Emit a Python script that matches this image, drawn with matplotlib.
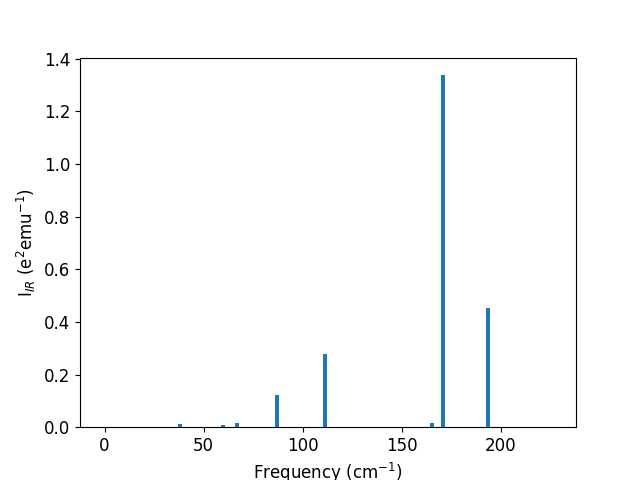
import numpy as np
import matplotlib
matplotlib.use('Agg')
import matplotlib.pyplot as plt

plt.rcParams['font.size'] = 12

# vibrational modes (cm^-1) and IR intensities
freqs = [0.0, 37.9, 60.0, 66.8, 86.9, 111.3, 165.2, 170.7, 193.4, 225.5]
intens = [0.0, 0.011, 0.007, 0.015, 0.121, 0.277, 0.015, 1.337, 0.452, 0.0]

fig, ax = plt.subplots(figsize=(6.4, 4.8), dpi=100)
ax.bar(freqs, intens, width=2.0, color='#1f77b4')
ax.set_xlabel(r'Frequency (cm$^{-1}$)')
ax.set_ylabel(r'I$_{IR}$ (e$^{2}$emu$^{-1}$)')
fig.savefig('out.png')
